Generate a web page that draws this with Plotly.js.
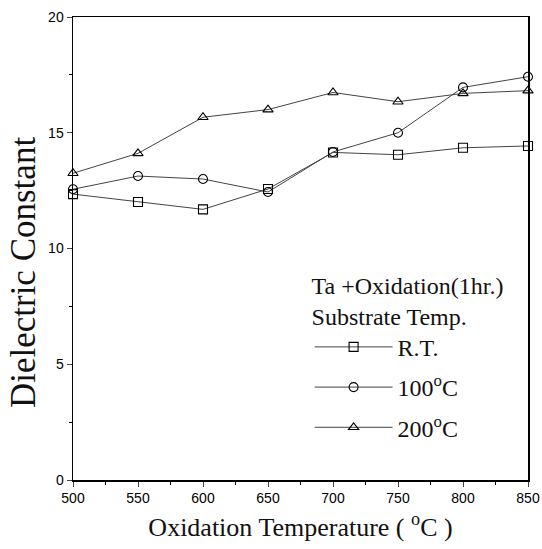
<!DOCTYPE html>
<html>
<head>
<meta charset="utf-8">
<script src="https://cdn.plot.ly/plotly-3.0.1.min.js"></script>
<style>html,body{margin:0;padding:0;background:#fff;}#chart{width:542px;height:549px;}</style>
</head>
<body>
<div id="chart"></div>
<script>
const temps = [500, 550, 600, 650, 700, 750, 800, 850];
const rtValues = [12.35, 12.01, 11.69, 12.57, 14.15, 14.05, 14.35, 14.43];
const c100Values = [12.56, 13.13, 13.0, 12.44, 14.17, 15.0, 16.96, 17.42];
const c200Values = [13.25, 14.11, 15.67, 16.0, 16.74, 16.34, 16.7, 16.82];
const seriesNames = ['R.T.', '100<sup>o</sup>C', '200<sup>o</sup>C'];
const legendTitle = 'Ta +Oxidation(1hr.)<br>Substrate Temp.';
const xTickVals = [500, 550, 600, 650, 700, 750, 800, 850];
const yTickVals = [0, 5, 10, 15, 20];
const xTitle = 'Oxidation Temperature ( <sup>o</sup>C )';
const yTitle = 'Dielectric Constant';

const serif = 'Liberation Serif, Times New Roman, serif';
const sans = 'Liberation Sans, Arial, sans-serif';

function mk(y, name, sym, grp) {
  return {
    x: temps, y: y, name: name, type: 'scatter', mode: 'lines+markers',
    legendgroup: grp,
    line: {color: '#444', width: 1},
    marker: {symbol: sym, size: 9, color: '#000', line: {width: 1.1}},
    cliponaxis: false
  };
}
const data = [
  mk(rtValues, seriesNames[0], 'square-open', 'a'),
  mk(c100Values, seriesNames[1], 'circle-open', 'b'),
  mk(c200Values, seriesNames[2], 'triangle-up-open', 'c')
];
const layout = {
  width: 542, height: 549,
  margin: {l: 73, r: 14, t: 17, b: 69},
  paper_bgcolor: '#fff', plot_bgcolor: '#fff',
  showlegend: true,
  legend: {
    x: 0.52, y: 0.47, xanchor: 'left', yanchor: 'top',
    bgcolor: 'rgba(0,0,0,0)', borderwidth: 0,
    font: {family: serif, size: 24, color: '#111'},
    title: {text: legendTitle, font: {family: serif, size: 24, color: '#111'}, side: 'top'},
    tracegroupgap: 6, itemwidth: 78
  },
  annotations: [{
    text: yTitle, xref: 'paper', yref: 'paper', x: -0.11, y: 0.449,
    xanchor: 'center', yanchor: 'middle', textangle: -90, showarrow: false,
    font: {family: serif, size: 35, color: '#111'}
  }],
  xaxis: {
    range: [500, 850], tickvals: xTickVals, ticks: 'outside', ticklen: 5, tickwidth: 1,
    minor: {dtick: 25, ticks: 'outside', ticklen: 3, tickcolor: '#000'},
    showline: true, mirror: true, linecolor: '#000', linewidth: 1.5,
    showgrid: false, zeroline: false,
    tickfont: {family: sans, size: 14, color: '#000'},
    title: {text: xTitle, font: {family: serif, size: 26, color: '#111'}, standoff: 12}
  },
  yaxis: {
    range: [0, 20], tickvals: yTickVals, ticks: 'outside', ticklen: 5, tickwidth: 1,
    minor: {dtick: 2.5, ticks: 'outside', ticklen: 3, tickcolor: '#000'},
    showline: true, mirror: true, linecolor: '#000', linewidth: 1.5,
    showgrid: false, zeroline: false,
    tickfont: {family: sans, size: 14, color: '#000'}
  }
};
Plotly.newPlot('chart', data, layout, {displayModeBar: false, staticPlot: true});
</script>
</body>
</html>
